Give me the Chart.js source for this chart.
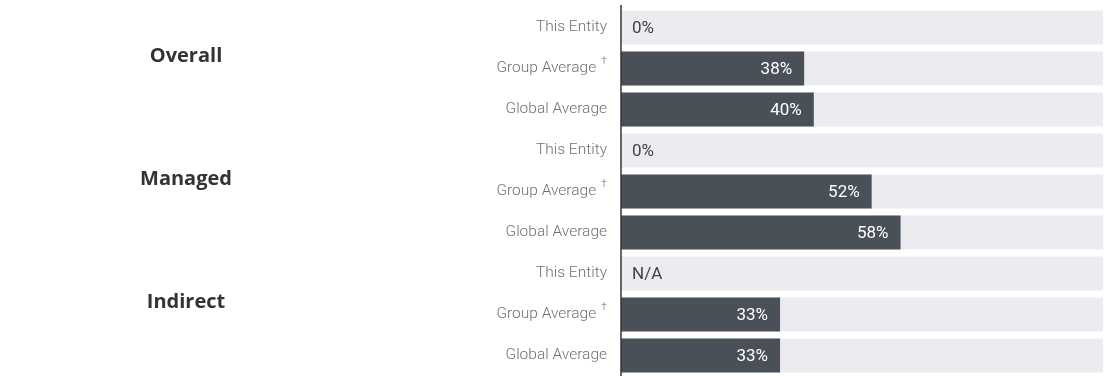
<!DOCTYPE html>
<html>
<head>
<meta charset="utf-8">
<script src="https://cdn.jsdelivr.net/npm/chart.js@4/dist/chart.umd.min.js"></script>
<style>
  html, body { margin: 0; padding: 0; background: #fff; overflow: hidden; }
  #wrap { position: relative; width: 1109px; height: 376px; }
</style>
</head>
<body>
<div id="wrap"><canvas id="scoreChart"></canvas></div>
<script>
// Grupy i wiersze
const groups = ["Overall", "Managed", "Indirect"];
const rowLabels = ["This Entity", "Group Average †", "Global Average"];

// Wartości procentowe (null = brak danych)
const overallValues = [0, 38, 40];
const managedValues = [0, 52, 58];
const indirectValues = [null, 33, 33];

const maxValue = 100;

const categories = [];
groups.forEach(() => rowLabels.forEach(r => categories.push(r)));
const values = [...overallValues, ...managedValues, ...indirectValues];
const track = categories.map(() => maxValue);

const FONT = "Roboto, 'Noto Sans', sans-serif";
const HEAD_FONT = "'Open Sans', Roboto, sans-serif";
const AXIS_X = 621;

// Etykiety osi Y, nazwy grup, linia osi i wartości na słupkach
const annotate = {
  id: "annotate",
  afterDatasetsDraw(chart) {
    const { ctx, chartArea, scales } = chart;
    const y = scales.y, x = scales.x;
    ctx.save();

    // linia osi
    ctx.strokeStyle = "#30363c";
    ctx.lineWidth = 1.5;
    ctx.beginPath();
    ctx.moveTo(chartArea.left, 5);
    ctx.lineTo(chartArea.left, chart.height);
    ctx.stroke();

    // etykiety wierszy
    ctx.textBaseline = "middle";
    categories.forEach((lab, i) => {
      const py = y.getPixelForValue(i);
      const right = chartArea.left - 14;
      ctx.fillStyle = "#6b727a";
      if (lab.endsWith("†")) {
        const main = lab.slice(0, -1);
        ctx.font = "300 11px " + FONT;
        const dw = ctx.measureText("†").width;
        ctx.textAlign = "right";
        ctx.fillText("†", right, py - 7);
        ctx.font = "300 15.5px " + FONT;
        ctx.fillText(main, right - dw - 1, py);
      } else {
        ctx.font = "300 15.5px " + FONT;
        ctx.textAlign = "right";
        ctx.fillText(lab, right, py);
      }
    });

    // nazwy grup
    ctx.font = "bold 20px " + HEAD_FONT;
    ctx.fillStyle = "#333333";
    ctx.textAlign = "center";
    groups.forEach((g, gi) => {
      const mid = y.getPixelForValue(gi * rowLabels.length + 1);
      ctx.fillText(g, 186, mid - 12);
    });

    // wartości
    ctx.font = "17px " + FONT;
    values.forEach((v, i) => {
      const py = y.getPixelForValue(i) + 1;
      if (v === null || v === 0) {
        ctx.fillStyle = "#3d444b";
        ctx.textAlign = "left";
        ctx.fillText(v === null ? "N/A" : v + "%", chartArea.left + 11, py);
      } else {
        ctx.fillStyle = "#ffffff";
        ctx.textAlign = "right";
        ctx.fillText(v + "%", x.getPixelForValue(v) - 12, py);
      }
    });
    ctx.restore();
  }
};

new Chart(document.getElementById("scoreChart"), {
  type: "bar",
  data: {
    labels: categories,
    datasets: [
      {
        label: "value",
        data: values,
        backgroundColor: "#4a5058",
        grouped: false,
        order: 1,
        barPercentage: 0.83,
        categoryPercentage: 1
      },
      {
        label: "track",
        data: track,
        backgroundColor: "#ebebf0",
        grouped: false,
        order: 2,
        barPercentage: 0.83,
        categoryPercentage: 1
      }
    ]
  },
  options: {
    indexAxis: "y",
    responsive: true,
    maintainAspectRatio: false,
    animation: false,
    layout: { padding: { top: 7, right: 6, bottom: 0, left: 0 } },
    plugins: { legend: { display: false }, tooltip: { enabled: false } },
    scales: {
      x: { min: 0, max: maxValue, display: false },
      y: {
        grid: { display: false },
        border: { display: false },
        ticks: { display: false },
        afterFit: (scale) => { scale.width = AXIS_X; }
      }
    }
  },
  plugins: [annotate]
});
</script>
</body>
</html>
